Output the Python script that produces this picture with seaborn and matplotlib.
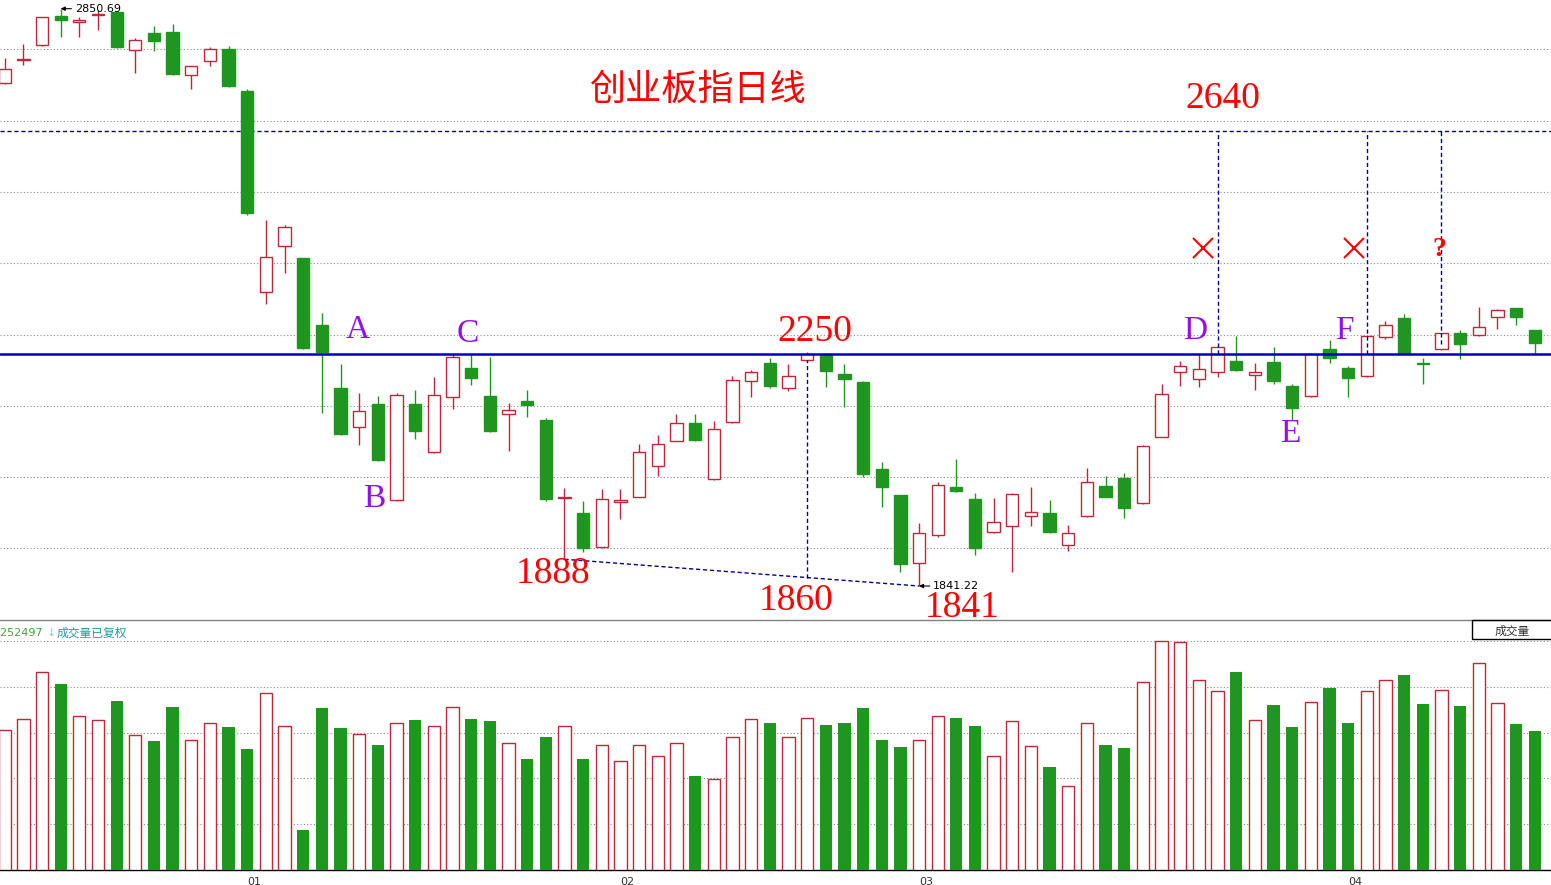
import numpy as np
import pandas as pd
import seaborn as sns
import matplotlib.pyplot as plt
from matplotlib.patches import Rectangle

# 1. Data (ChiNext index, daily bars)
opens = [2720.8, 2761.3, 2787.0, 2838.3, 2826.6, 2840.0, 2845.1, 2778.1, 2808.5, 2809.9,
         2734.6, 2758.7, 2780.2, 2706.9, 2354.6, 2435.2, 2414.2, 2297.6, 2186.9, 2118.7,
         2158.9, 1991.1, 2158.9, 2075.0, 2171.2, 2221.9, 2172.9, 2141.5, 2164.7, 2131.5,
         1995.8, 1968.3, 1908.9, 1988.6, 1997.3, 2050.5, 2095.3, 2125.7, 2028.8, 2128.5,
         2199.2, 2231.2, 2186.9, 2235.9, 2246.9, 2211.4, 2197.4, 2045.8, 1999.8, 1881.9,
         1930.9, 2013.8, 1993.3, 1935.1, 1945.9, 1963.1, 1968.3, 1912.4, 1963.1, 2015.5,
         2030.6, 1986.9, 2102.3, 2214.9, 2202.6, 2214.9, 2234.6, 2209.6, 2232.4, 2191.1,
         2172.9, 2255.1, 2222.4, 2207.9, 2276.1, 2309.3, 2231.2, 2255.1, 2283.1, 2279.6,
         2311.1, 2326.8, 2288.9]
highs = [2764.3, 2788.4, 2837.0, 2850.69, 2835.5, 2847.9, 2845.5, 2800.3, 2820.3, 2823.1,
         2750.5, 2783.0, 2785.1, 2709.7, 2480.9, 2472.5, 2414.5, 2318.1, 2229.4, 2178.2,
         2172.9, 2178.2, 2183.9, 2206.2, 2246.9, 2246.9, 2241.1, 2160.7, 2183.9, 2135.0,
         2012.0, 1989.8, 2010.3, 2010.3, 2089.5, 2105.3, 2142.0, 2142.0, 2129.2, 2208.4,
         2218.9, 2239.4, 2228.9, 2250.0, 2249.2, 2229.4, 2199.0, 2058.6, 2001.0, 1951.9,
         2023.1, 2062.8, 2004.4, 1995.6, 2003.0, 2013.8, 1991.6, 1947.9, 2047.0, 2033.6,
         2038.3, 2087.8, 2194.4, 2234.6, 2246.9, 2259.6, 2278.4, 2230.6, 2259.6, 2194.4,
         2248.1, 2271.4, 2225.9, 2279.0, 2304.6, 2316.3, 2239.9, 2284.0, 2288.9, 2328.6,
         2326.1, 2327.5, 2289.5]
lows = [2719.0, 2751.9, 2786.0, 2801.5, 2801.5, 2812.7, 2781.6, 2737.4, 2777.4, 2735.0,
        2711.1, 2749.8, 2714.0, 2490.6, 2333.8, 2389.1, 2255.1, 2143.2, 2105.0, 2087.3,
        2060.0, 1990.0, 2097.7, 2074.0, 2150.2, 2192.2, 2111.0, 2077.8, 2137.2, 1990.4,
        1888.0, 1901.2, 1907.0, 1957.8, 1996.0, 2033.6, 2094.0, 2095.0, 2027.0, 2127.0,
        2171.2, 2188.0, 2182.7, 2235.0, 2189.7, 2154.7, 2031.3, 1979.9, 1865.7, 1841.22,
        1926.4, 2005.6, 1895.4, 1934.0, 1865.7, 1946.1, 1934.4, 1902.9, 1962.0, 1996.0,
        1960.6, 1985.0, 2101.0, 2191.5, 2189.7, 2206.2, 2217.7, 2184.5, 2193.9, 2131.5,
        2172.0, 2231.7, 2172.2, 2206.2, 2272.6, 2248.0, 2194.4, 2254.0, 2237.6, 2279.0,
        2290.1, 2298.1, 2248.1]
closes = [2744.9, 2762.7, 2835.5, 2831.3, 2831.3, 2841.1, 2784.4, 2795.4, 2794.7, 2736.0,
          2749.8, 2779.5, 2715.2, 2492.7, 2416.0, 2468.4, 2256.9, 2249.9, 2106.5, 2146.7,
          2061.0, 2174.7, 2112.8, 2174.7, 2241.1, 2205.4, 2112.8, 2148.4, 2158.2, 1993.3,
          1996.8, 1907.1, 1992.8, 1992.1, 2075.0, 2089.0, 2125.7, 2096.5, 2115.2, 2201.4,
          2214.9, 2191.1, 2208.9, 2246.9, 2217.7, 2203.7, 2037.6, 2014.8, 1880.2, 1933.4,
          2017.3, 2007.9, 1907.1, 1952.6, 2001.5, 1970.1, 1936.2, 1933.4, 2022.6, 1997.3,
          1978.1, 2085.5, 2176.4, 2225.4, 2220.1, 2258.6, 2218.9, 2214.9, 2200.2, 2153.0,
          2246.9, 2239.4, 2205.4, 2277.8, 2297.1, 2249.2, 2230.1, 2283.1, 2264.9, 2293.6,
          2323.8, 2311.1, 2266.6]
volumes = [305, 329, 433, 406, 336, 327, 369, 294, 282, 356,
           283, 320, 312, 264, 386, 314, 87, 354, 310, 297,
           273, 322, 328, 314, 355, 330, 325, 277, 242, 290,
           314, 242, 272, 238, 274, 250, 277, 205, 199, 290,
           329, 321, 290, 331, 317, 321, 354, 284, 269, 285,
           336, 332, 314, 250, 325, 270, 225, 183, 322, 273,
           266, 410, 501, 499, 414, 392, 432, 327, 360, 312,
           366, 397, 321, 392, 414, 426, 362, 394, 358, 453,
           364, 319, 303]
month_ticks = [13, 33, 49, 72]
month_labels = ["01", "02", "03", "04"]
grid_levels = [2780, 2655, 2530, 2406, 2281, 2156, 2031, 1907]
vol_grid = [100, 200, 300, 400, 500]

target_level = 2637     # dashed "2640" line
neck_level = 2247       # solid blue "2250" line

df = pd.DataFrame({"Open": opens, "High": highs, "Low": lows, "Close": closes, "Volume": volumes})
df["idx"] = np.arange(len(df))
df["up"] = df["Close"] >= df["Open"]

RED = "#c0283a"
GREEN = "#1f961f"
BLUE = "#0000c0"
DASH = "#000090"
PURPLE = "#9010f0"

# 2. Figure setup
sns.set_style("white")
plt.rcParams["font.family"] = ["DejaVu Sans", "Noto Sans CJK SC"]
W, H = 1551, 885
fig = plt.figure(figsize=(W / 100, H / 100), dpi=100)
ax = fig.add_axes([0, 1 - 620 / H, 1, 620 / H])
ax_vol = fig.add_axes([0, 1 - 870 / H, 1, 250 / H])

# 3. Candlesticks
for lv in grid_levels:
    ax.axhline(lv, color="#8c8c8c", lw=0.8, ls=(0, (1, 2)), zorder=0)
ax.axhline(target_level, color=DASH, lw=1.0, ls=(0, (3, 2)), zorder=1)

colors = np.where(df["up"], RED, GREEN)
ax.vlines(df["idx"], df["Low"], df["High"], colors=colors, lw=1.0, zorder=2)
body_lo = df[["Open", "Close"]].min(axis=1)
body_h = (df["Close"] - df["Open"]).abs().clip(lower=0.6)
ax.bar(df["idx"], body_h, bottom=body_lo, width=0.66,
       facecolor=np.where(df["up"], "white", GREEN), edgecolor=colors, lw=1.0, zorder=3)

ax.axhline(neck_level, color=BLUE, lw=1.8, zorder=4)

# dashed helper lines
for i, y_end in [(65, neck_level), (73, neck_level), (77, 2264)]:
    ax.vlines(i, y_end, target_level, colors=DASH, lw=1.0, ls=(0, (3, 2)), zorder=4)
slant_y = lows[30] + (43 - 30) / (49 - 30) * (lows[49] - lows[30])
ax.plot([30, 49], [lows[30], lows[49]], color=DASH, lw=1.0, ls=(0, (3, 2)), zorder=4)
ax.vlines(43, slant_y, 2236, colors=DASH, lw=1.0, ls=(0, (3, 2)), zorder=4)

# high / low markers
for i, txt in [(3, "2850.69"), (49, "1841.22")]:
    ax.annotate(txt, xy=(i, df["High"][i] if i == 3 else df["Low"][i]), xytext=(14, 0),
                textcoords="offset pixels", ha="left", va="center", fontsize=8, color="black",
                arrowprops=dict(arrowstyle="-|>", color="black", lw=0.8, shrinkA=0, shrinkB=0,
                                mutation_scale=6), zorder=6)

# 4. Text annotations
ax.text(37.1, 2708, "创业板指日线", color="red", fontsize=26, ha="center", va="center",
        family=["Noto Sans CJK SC"], zorder=6)
serif = ["Liberation Serif"]
for x, y, s in [(65.3, 2694, "2640"), (43.4, 2285, "2250"), (29.4, 1862, "1888"),
                (42.4, 1815, "1860"), (51.3, 1804, "1841")]:
    ax.text(x, y, s, color="red", fontsize=27, ha="center", va="center", family=serif, zorder=6)
for x, y, s in [(18.9, 2290, "A"), (19.8, 1993, "B"), (24.8, 2283, "C"),
                (63.8, 2287, "D"), (68.9, 2108, "E"), (71.8, 2287, "F")]:
    ax.text(x, y, s, color=PURPLE, fontsize=24, ha="center", va="center", family=serif, zorder=6)
for x in [64.2, 72.3]:
    ax.plot([x], [2432], marker="x", ms=15, mew=1.5, color="red", zorder=6)
ax.text(76.9, 2430, "?", color="red", fontsize=20, fontweight="bold", ha="center", va="center",
        family=serif, zorder=6)

ax.set_xlim(-0.252, 82.87)
ax.set_ylim(1781.8, 2865.9)
ax.axis("off")

# 5. Volume panel
for lv in vol_grid:
    ax_vol.axhline(lv, color="#8c8c8c", lw=0.8, ls=(0, (1, 2)), zorder=0)

n0 = len(ax_vol.patches)
sns.barplot(data=df[df["up"]], x="idx", y="Volume", native_scale=True, width=0.66,
            color=RED, errorbar=None, ax=ax_vol, zorder=3)
for p in ax_vol.patches[n0:]:
    p.set_facecolor("white")
    p.set_edgecolor(RED)
    p.set_linewidth(1.0)
n1 = len(ax_vol.patches)
sns.barplot(data=df[~df["up"]], x="idx", y="Volume", native_scale=True, width=0.66,
            color=GREEN, errorbar=None, ax=ax_vol, zorder=3)
for p in ax_vol.patches[n1:]:
    p.set_facecolor(GREEN)
    p.set_edgecolor(GREEN)
    p.set_linewidth(0)

ax_vol.set_xlim(-0.252, 82.87)
ax_vol.set_ylim(0, 546)
ax_vol.set_xlabel("")
ax_vol.set_ylabel("")
ax_vol.set_yticks([])
ax_vol.set_xticks(month_ticks)
ax_vol.set_xticklabels(month_labels, ha="left", fontsize=8, color="#333333")
ax_vol.tick_params(axis="x", length=4, width=0.8, color="#666666", pad=1)
for side in ["left", "right"]:
    ax_vol.spines[side].set_visible(False)
ax_vol.spines["bottom"].set_color("black")
ax_vol.spines["bottom"].set_linewidth(1.0)
ax_vol.spines["top"].set_color("#808080")
ax_vol.spines["top"].set_linewidth(1.0)

# panel captions
fig.text(43 / W, 1 - 633 / H, "3252497", color="#3aa83a", fontsize=8, ha="right", va="center")
fig.text(47 / W, 1 - 633 / H, "↓", color="#8cc8e8", fontsize=8, ha="left", va="center")
fig.text(57 / W, 1 - 633 / H, "成交量已复权", color="#2a9a9a", fontsize=8.5, ha="left", va="center",
         family=["Noto Sans CJK SC"])
fig.add_artist(Rectangle((1472 / W, 1 - 639 / H), 82 / W, 19 / H, transform=fig.transFigure,
                         fill=False, edgecolor="black", lw=1.0))
fig.text(1512 / W, 1 - 631 / H, "成交量", color="#333333", fontsize=8.5, ha="center", va="center",
         family=["Noto Sans CJK SC"])

fig.savefig("out.png", dpi=100, facecolor="white")
